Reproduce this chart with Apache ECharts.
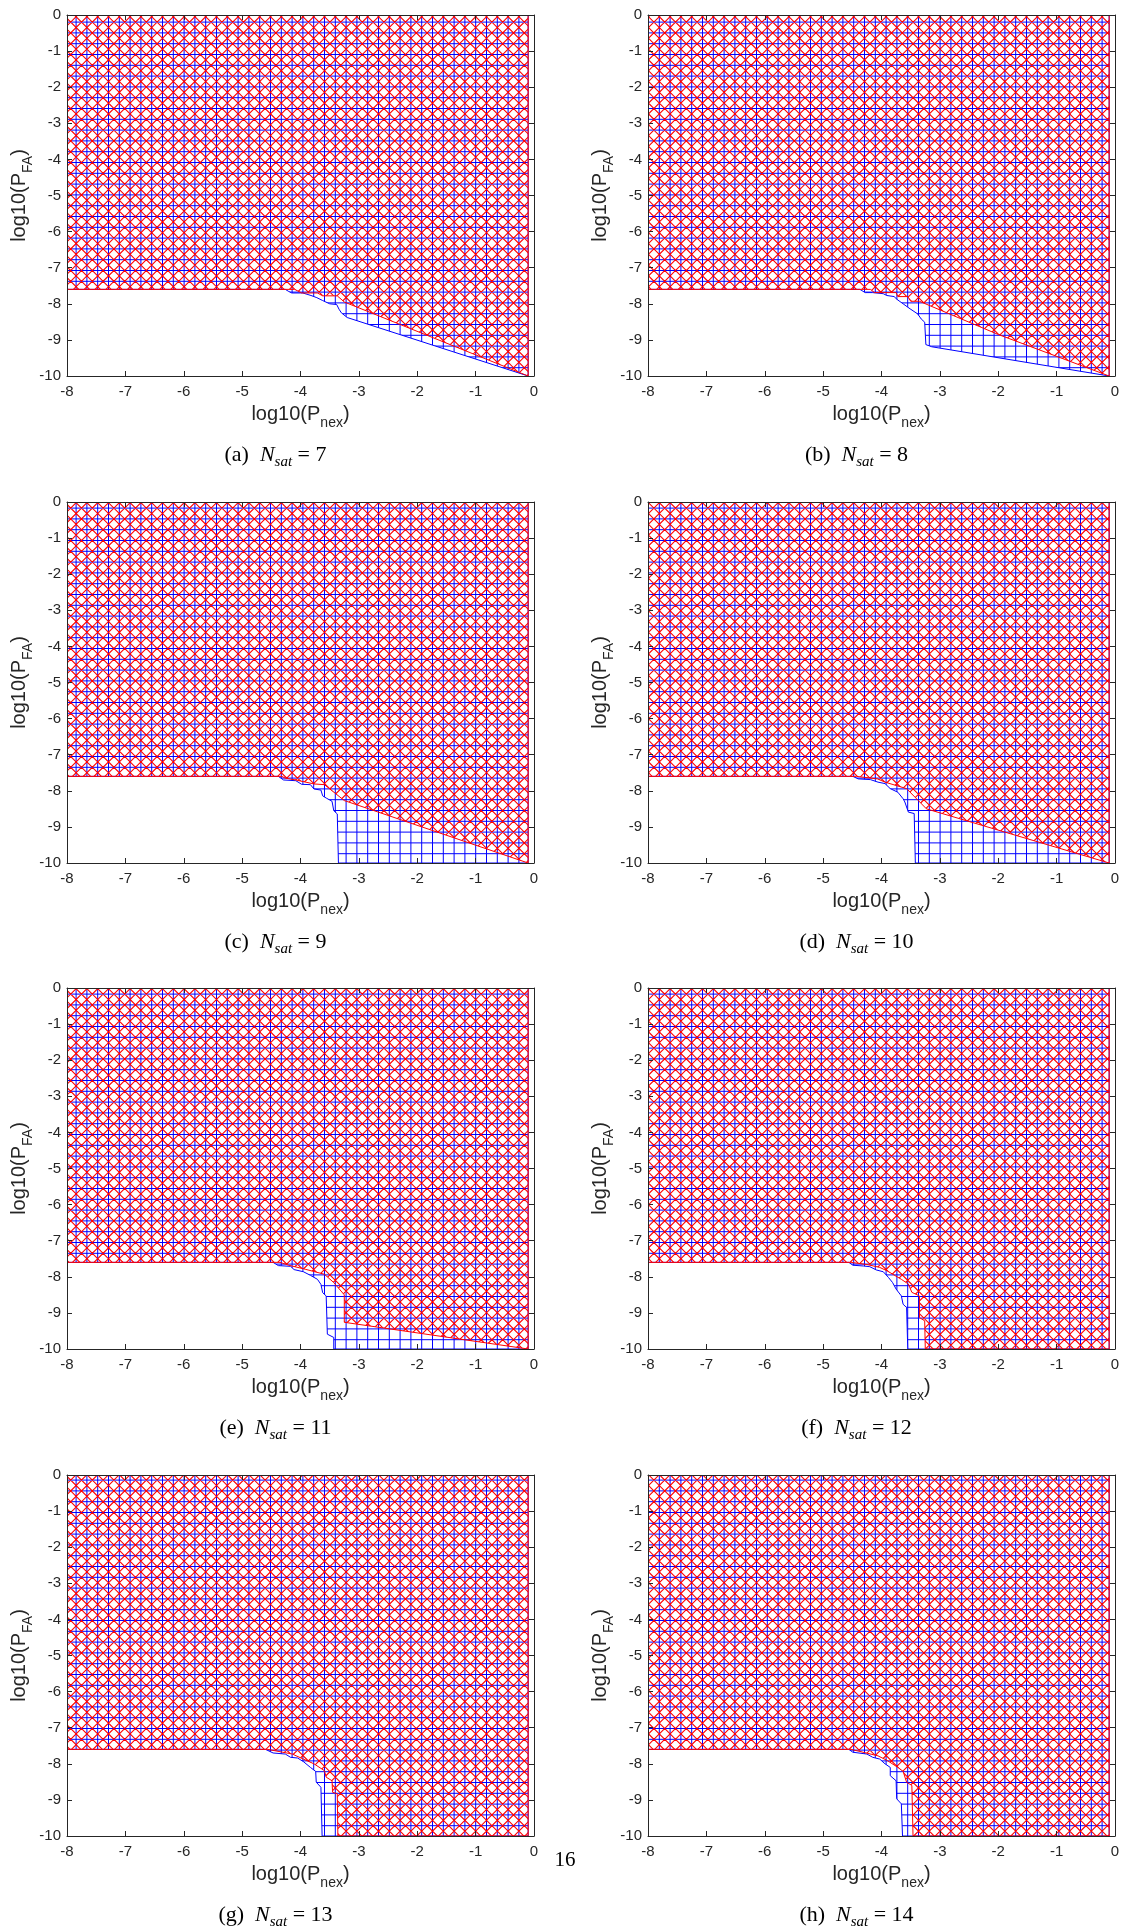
<!DOCTYPE html>
<html>
<head>
<meta charset="utf-8">
<script src="https://cdn.jsdelivr.net/npm/echarts@6/dist/echarts.min.js"></script>
<style>
  html, body { margin: 0; padding: 0; background: #fff; }
  #chart { width: 1126px; height: 1931px; }
</style>
</head>
<body>
<div id="chart"></div>
<script>
// one panel per satellite count
const nSat = [7, 8, 9, 10, 11, 12, 13, 14];
const panelTags = ['(a)', '(b)', '(c)', '(d)', '(e)', '(f)', '(g)', '(h)'];
const xRange = [-8, 0];   // log10(Pnex)
const yRange = [-10, 0];  // log10(PFA)

// lower edges of the two hatched regions, [log10(Pnex), log10(PFA)]
const blue7 = [[-8, -7.6], [-4.26, -7.6], [-4.2, -7.66], [-4.15, -7.7], [-3.96, -7.7], [-3.82, -7.77], [-3.72, -7.83], [-3.62, -7.91], [-3.5, -8.0], [-3.38, -8.02], [-3.34, -8.15], [-3.3, -8.25], [-3.2, -8.38], [-0.1, -10], [-0.1, 0]];
const red7 = [[-8, -7.6], [-4.1, -7.6], [-3.98, -7.7], [-3.71, -7.7], [-3.62, -7.78], [-3.37, -7.78], [-3.25, -7.95], [-0.1, -10], [-0.1, 0]];

const blue8 = [[-8, -7.6], [-4.37, -7.6], [-4.28, -7.69], [-4.15, -7.69], [-3.97, -7.72], [-3.91, -7.77], [-3.78, -7.8], [-3.75, -7.86], [-3.63, -8.0], [-3.51, -8.14], [-3.38, -8.28], [-3.32, -8.42], [-3.26, -8.51], [-3.24, -9.13], [-3.14, -9.19], [-0.1, -10], [-0.1, 0]];
const red8 = [[-8, -7.6], [-4.19, -7.6], [-4.12, -7.69], [-3.75, -7.69], [-3.72, -7.8], [-3.55, -7.8], [-3.5, -7.93], [-3.35, -7.93], [-2, -8.85], [-0.1, -10], [-0.1, 0]];

const blue9 = [[-8, -7.6], [-4.38, -7.6], [-4.29, -7.7], [-4.08, -7.72], [-3.98, -7.82], [-3.83, -7.83], [-3.77, -7.95], [-3.65, -7.98], [-3.62, -8.14], [-3.56, -8.2], [-3.46, -8.29], [-3.43, -8.55], [-3.37, -8.64], [-3.35, -10], [-0.1, -10], [-0.1, 0]];
const red9 = [[-8, -7.6], [-4.32, -7.6], [-4.26, -7.65], [-4.08, -7.7], [-3.77, -7.81], [-3.59, -7.83], [-3.25, -8.27], [-0.1, -10], [-0.1, 0]];

const blue10 = [[-8, -7.6], [-4.49, -7.6], [-4.4, -7.67], [-4.19, -7.69], [-4.06, -7.76], [-3.94, -7.8], [-3.85, -7.94], [-3.72, -8.04], [-3.63, -8.22], [-3.6, -8.31], [-3.54, -8.59], [-3.44, -8.63], [-3.42, -10], [-0.1, -10], [-0.1, 0]];
const red10 = [[-8, -7.6], [-4.43, -7.6], [-4.07, -7.67], [-3.94, -7.76], [-3.57, -7.94], [-3.23, -8.5], [-0.1, -10], [-0.1, 0]];

const blue11 = [[-8, -7.6], [-4.47, -7.6], [-4.38, -7.69], [-4.17, -7.71], [-4.11, -7.8], [-3.95, -7.86], [-3.83, -7.96], [-3.71, -8.07], [-3.65, -8.21], [-3.62, -8.44], [-3.56, -8.53], [-3.54, -9.59], [-3.43, -9.68], [-3.43, -10], [-0.1, -10], [-0.1, 0]];
const red11 = [[-8, -7.6], [-4.35, -7.6], [-4.2, -7.68], [-3.92, -7.79], [-3.59, -7.93], [-3.43, -8.16], [-3.25, -8.5], [-3.25, -9.26], [-0.1, -10], [-0.1, 0]];

const blue12 = [[-8, -7.6], [-4.56, -7.6], [-4.49, -7.68], [-4.31, -7.7], [-4.2, -7.72], [-4.09, -7.81], [-3.97, -7.86], [-3.88, -8.02], [-3.81, -8.16], [-3.75, -8.34], [-3.66, -8.53], [-3.63, -8.76], [-3.57, -8.85], [-3.55, -10], [-0.1, -10], [-0.1, 0]];
const red12 = [[-8, -7.6], [-4.52, -7.6], [-4.25, -7.66], [-4.03, -7.74], [-3.91, -7.83], [-3.66, -8.07], [-3.54, -8.2], [-3.48, -8.43], [-3.35, -8.53], [-3.35, -9.13], [-3.26, -9.22], [-3.25, -10], [-0.1, -10], [-0.1, 0]];

const blue13 = [[-8, -7.6], [-4.6, -7.6], [-4.47, -7.7], [-4.26, -7.73], [-4.17, -7.82], [-4.05, -7.84], [-3.95, -7.94], [-3.83, -8.1], [-3.74, -8.21], [-3.73, -8.51], [-3.65, -8.65], [-3.63, -10], [-0.1, -10], [-0.1, 0]];
const red13 = [[-8, -7.6], [-4.56, -7.6], [-4.14, -7.73], [-3.95, -7.87], [-3.77, -8.0], [-3.59, -8.19], [-3.56, -8.37], [-3.46, -8.47], [-3.45, -8.79], [-3.37, -8.83], [-3.36, -10], [-0.1, -10], [-0.1, 0]];

const blue14 = [[-8, -7.6], [-4.56, -7.6], [-4.49, -7.68], [-4.25, -7.73], [-4.15, -7.82], [-4.03, -7.87], [-3.94, -8.0], [-3.85, -8.1], [-3.85, -8.33], [-3.75, -8.47], [-3.74, -8.97], [-3.66, -9.11], [-3.64, -10], [-0.1, -10], [-0.1, 0]];
const red14 = [[-8, -7.6], [-4.52, -7.6], [-4.06, -7.78], [-3.9, -7.91], [-3.72, -8.1], [-3.63, -8.21], [-3.57, -8.51], [-3.48, -8.6], [-3.46, -10], [-0.1, -10], [-0.1, 0]];

const blueEdges = [blue7, blue8, blue9, blue10, blue11, blue12, blue13, blue14];
const redEdges = [red7, red8, red9, red10, red11, red12, red13, red14];

// page layout
const colLeft = [67, 648];
const rowTop = [15, 502, 988, 1475];
const plotW = 467;
const plotH = 361;
const ink = '#262626';
const sans = 'Liberation Sans, Arial, sans-serif';
const serif = 'Liberation Serif, Times New Roman, serif';

// hatch tiles: 5 cells of 10.8px so the tile repeats cleanly
const cell = 10.8;
function makeTile(draw) {
  const c = document.createElement('canvas');
  c.width = 54;
  c.height = 54;
  draw(c.getContext('2d'));
  return c;
}
const gridTile = makeTile(function (ctx) {
  ctx.strokeStyle = '#0000ff';
  ctx.lineWidth = 1;
  ctx.beginPath();
  for (let k = 0; k < 5; k++) {
    const p = k * cell + 0.5;
    ctx.moveTo(p, 0); ctx.lineTo(p, 54);
    ctx.moveTo(0, p); ctx.lineTo(54, p);
  }
  ctx.stroke();
});
// diagonals cross on the midpoints of the blue cell edges
const crossTile = makeTile(function (ctx) {
  ctx.strokeStyle = '#ff0000';
  ctx.lineWidth = 1.1;
  ctx.beginPath();
  const h = cell / 2;
  for (let k = -6; k <= 11; k++) {
    const c = k * cell + h;
    ctx.moveTo(c - 10, -10); ctx.lineTo(c + 64, 64);
    ctx.moveTo(c + 11, -10); ctx.lineTo(c - 63, 64);
  }
  ctx.stroke();
});

const nameRich = {
  m: { fontSize: 20, lineHeight: 32, fontFamily: sans, color: ink },
  s: { fontSize: 14, lineHeight: 14, verticalAlign: 'bottom', fontFamily: sans, color: ink }
};

function valueAxis(i, extra) {
  return Object.assign({
    type: 'value',
    gridIndex: i,
    z: 10,
    splitLine: { show: false },
    axisLine: { onZero: false, lineStyle: { color: ink, width: 1 } },
    axisTick: { inside: true, length: 5, lineStyle: { color: ink } },
    axisLabel: { show: false }
  }, extra);
}

const grids = [], xAxes = [], yAxes = [], series = [], graphics = [];

nSat.forEach(function (n, i) {
  const col = i % 2, row = Math.floor(i / 2);
  grids.push({ left: colLeft[col], top: rowTop[row], width: plotW, height: plotH, show: false });

  xAxes.push(valueAxis(i, {
    position: 'bottom', min: xRange[0], max: xRange[1], interval: 1,
    axisLabel: { show: true, color: ink, fontFamily: sans, fontSize: 15, margin: 8 },
    name: '{m|log10(P}{s|nex}{m|)}', nameLocation: 'middle', nameGap: 22,
    nameTextStyle: { rich: nameRich }
  }));
  xAxes.push(valueAxis(i, { position: 'top', min: xRange[0], max: xRange[1], interval: 1 }));

  yAxes.push(valueAxis(i, {
    position: 'left', min: yRange[0], max: yRange[1], interval: 1,
    axisLabel: { show: true, color: ink, fontFamily: sans, fontSize: 15, margin: 6 },
    name: '{m|log10(P}{s|FA}{m|)}', nameLocation: 'middle', nameGap: 29, nameRotate: 90,
    nameTextStyle: { rich: nameRich }
  }));
  yAxes.push(valueAxis(i, { position: 'right', min: yRange[0], max: yRange[1], interval: 1 }));

  // blue grid-hatched region, then red cross-hatched region on top
  [[blueEdges[i], '#0000ff', gridTile, 2], [redEdges[i], '#ff0000', crossTile, 3]].forEach(function (r) {
    series.push({
      type: 'line',
      xAxisIndex: 2 * i,
      yAxisIndex: 2 * i,
      data: r[0],
      symbol: 'none',
      silent: true,
      z: r[3],
      lineStyle: { color: r[1], width: 1 },
      itemStyle: { color: r[1] },
      areaStyle: { origin: 'end', opacity: 1, color: { image: r[2], repeat: 'repeat' } },
      emphasis: { disabled: true }
    });
  });

  graphics.push({
    type: 'text',
    x: colLeft[col] + plotW / 2 - 25,
    y: rowTop[row] + 440,
    style: {
      text: panelTags[i] + '  {i|N}{s|sat}{n| = ' + n + '}',
      fontFamily: serif, fontSize: 22, lineHeight: 30, fill: '#000',
      align: 'center', verticalAlign: 'middle',
      rich: {
        i: { fontFamily: serif, fontSize: 22, fontStyle: 'italic', lineHeight: 30 },
        s: { fontFamily: serif, fontSize: 15, fontStyle: 'italic', lineHeight: 15, verticalAlign: 'bottom' },
        n: { fontFamily: serif, fontSize: 22, lineHeight: 30 }
      }
    }
  });
});

// page number of the source document
graphics.push({
  type: 'text', x: 565, y: 1860,
  style: { text: '16', fontFamily: serif, fontSize: 21, fill: '#000', align: 'center', verticalAlign: 'middle' }
});

const chart = echarts.init(document.getElementById('chart'));
chart.setOption({
  animation: false,
  backgroundColor: '#fff',
  grid: grids,
  xAxis: xAxes,
  yAxis: yAxes,
  series: series,
  graphic: graphics
});
</script>
</body>
</html>
